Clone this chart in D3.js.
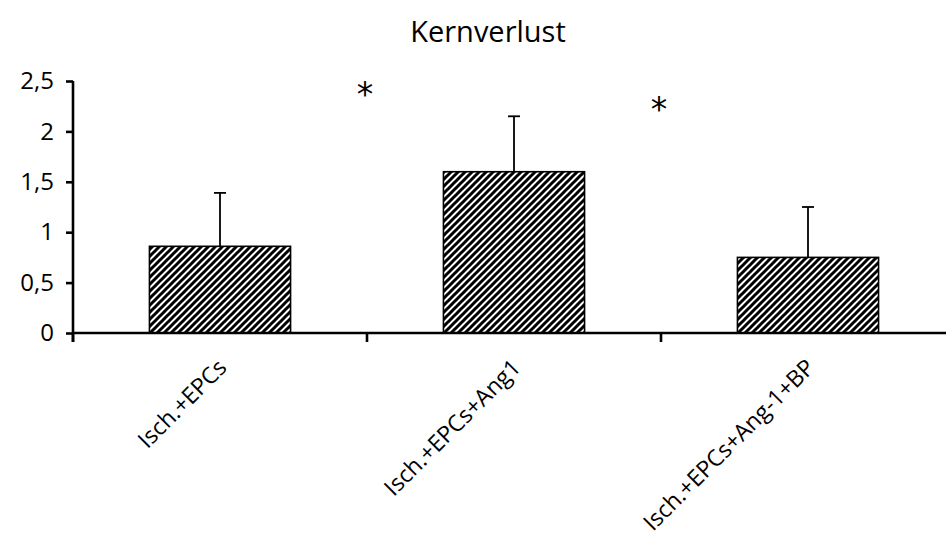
<!DOCTYPE html>
<html>
<head>
<meta charset="utf-8">
<script src="https://cdn.jsdelivr.net/npm/d3@7"></script>
<style>
    body { margin: 0; background: #fff; }
    text { font-family: "Open Sans", sans-serif; fill: #000; }
</style>
</head>
<body>
<svg id="chart" width="946" height="554"></svg>
<script>
// chart data
const categories = ['Isch.+EPCs', 'Isch.+EPCs+Ang1', 'Isch.+EPCs+Ang-1+BP'];
const means = [0.86, 1.6, 0.75];
const errors = [0.53, 0.55, 0.5];
const yTicks = [0, 0.5, 1, 1.5, 2, 2.5];
// significance stars: sit on the boundary after category index, at y value
const starAfter = [0, 1];
const starValues = [2.41, 2.26];
const title = 'Kernverlust';

const width = 946;
const height = 554;
const m = {left: 73, top: 81, right: -9, bottom: 221};

const svg = d3.select('#chart');

// hatch pattern, wide upward diagonal
const defs = svg.append('defs');
const pat = defs.append('pattern')
    .attr('id', 'hatch')
    .attr('patternUnits', 'userSpaceOnUse')
    .attr('width', 7)
    .attr('height', 7);
pat.append('rect').attr('width', 7).attr('height', 7).attr('fill', '#fff');
pat.append('path')
    .attr('d', 'M-1,8 L8,-1 M-4.5,4.5 L4.5,-4.5 M2.5,11.5 L11.5,2.5')
    .attr('stroke', '#000')
    .attr('stroke-width', 3);

const x = d3.scaleBand()
    .domain(categories)
    .range([m.left, width - m.right])
    .paddingInner(0.52)
    .paddingOuter(0.26);

const y = d3.scaleLinear()
    .domain([0, 2.5])
    .range([height - m.bottom, m.top]);

// title
svg.append('text')
    .attr('x', 488)
    .attr('y', 42)
    .attr('text-anchor', 'middle')
    .style('font-size', '29px')
    .text(title);

// bars
svg.selectAll('rect.bar')
    .data(categories)
    .enter()
    .append('rect')
    .attr('class', 'bar')
    .attr('x', (d) => x(d))
    .attr('y', (d, i) => y(means[i]))
    .attr('width', x.bandwidth())
    .attr('height', (d, i) => y(0) - y(means[i]))
    .attr('fill', 'url(#hatch)')
    .attr('stroke', '#000')
    .attr('stroke-width', 1.6);

// error bars (upper only)
const err = svg.selectAll('g.err')
    .data(categories)
    .enter()
    .append('g')
    .attr('class', 'err');
err.append('line')
    .attr('x1', (d) => x(d) + x.bandwidth() / 2)
    .attr('x2', (d) => x(d) + x.bandwidth() / 2)
    .attr('y1', (d, i) => y(means[i]))
    .attr('y2', (d, i) => y(means[i] + errors[i]))
    .attr('stroke', '#000')
    .attr('stroke-width', 1.8);
err.append('line')
    .attr('x1', (d) => x(d) + x.bandwidth() / 2 - 6)
    .attr('x2', (d) => x(d) + x.bandwidth() / 2 + 6)
    .attr('y1', (d, i) => y(means[i] + errors[i]))
    .attr('y2', (d, i) => y(means[i] + errors[i]))
    .attr('stroke', '#000')
    .attr('stroke-width', 1.8);

// y axis
const yAxis = svg.append('g')
    .attr('transform', 'translate(' + m.left + ',0)')
    .call(d3.axisLeft(y)
        .tickValues(yTicks)
        .tickSize(7)
        .tickPadding(12)
        .tickFormat((d) => String(d).replace('.', ',')));
yAxis.select('.domain').remove();
yAxis.append('line')
    .attr('x1', 0).attr('x2', 0)
    .attr('y1', y(2.5)).attr('y2', y(0) + 9)
    .attr('stroke', '#000').attr('stroke-width', 2.6);
yAxis.selectAll('.tick line').attr('stroke', '#000').attr('stroke-width', 2.6);
yAxis.selectAll('.tick text')
    .attr('fill', '#000')
    .style('font-size', '24px')
    .style('font-family', '"Open Sans", sans-serif');

// x axis: baseline plus ticks on band boundaries
const step = x.step();
const start = x(categories[0]) - x.paddingOuter() * step;
const bounds = d3.range(categories.length + 1).map((i) => start + i * step);
svg.append('line')
    .attr('x1', m.left).attr('x2', width)
    .attr('y1', y(0)).attr('y2', y(0))
    .attr('stroke', '#000').attr('stroke-width', 2.6);
svg.selectAll('line.xtick')
    .data(bounds)
    .enter()
    .append('line')
    .attr('class', 'xtick')
    .attr('x1', (d) => d).attr('x2', (d) => d)
    .attr('y1', y(0)).attr('y2', y(0) + 9)
    .attr('stroke', '#000').attr('stroke-width', 2.6);

// category labels, rotated
svg.selectAll('text.cat')
    .data(categories)
    .enter()
    .append('text')
    .attr('class', 'cat')
    .attr('text-anchor', 'end')
    .attr('transform', (d) => 'translate(' + (x(d) + x.bandwidth() / 2 + 8) + ',' + (y(0) + 36) + ') rotate(-45)')
    .style('font-size', '23px')
    .text((d) => d);

// significance stars
svg.selectAll('text.star')
    .data(starAfter)
    .enter()
    .append('text')
    .attr('class', 'star')
    .attr('x', (d) => bounds[d + 1] - 2)
    .attr('y', (d, i) => y(starValues[i]) + 16)
    .attr('text-anchor', 'middle')
    .style('font-family', '"DejaVu Sans", sans-serif')
    .style('font-size', '33px')
    .text('*');
</script>
</body>
</html>
